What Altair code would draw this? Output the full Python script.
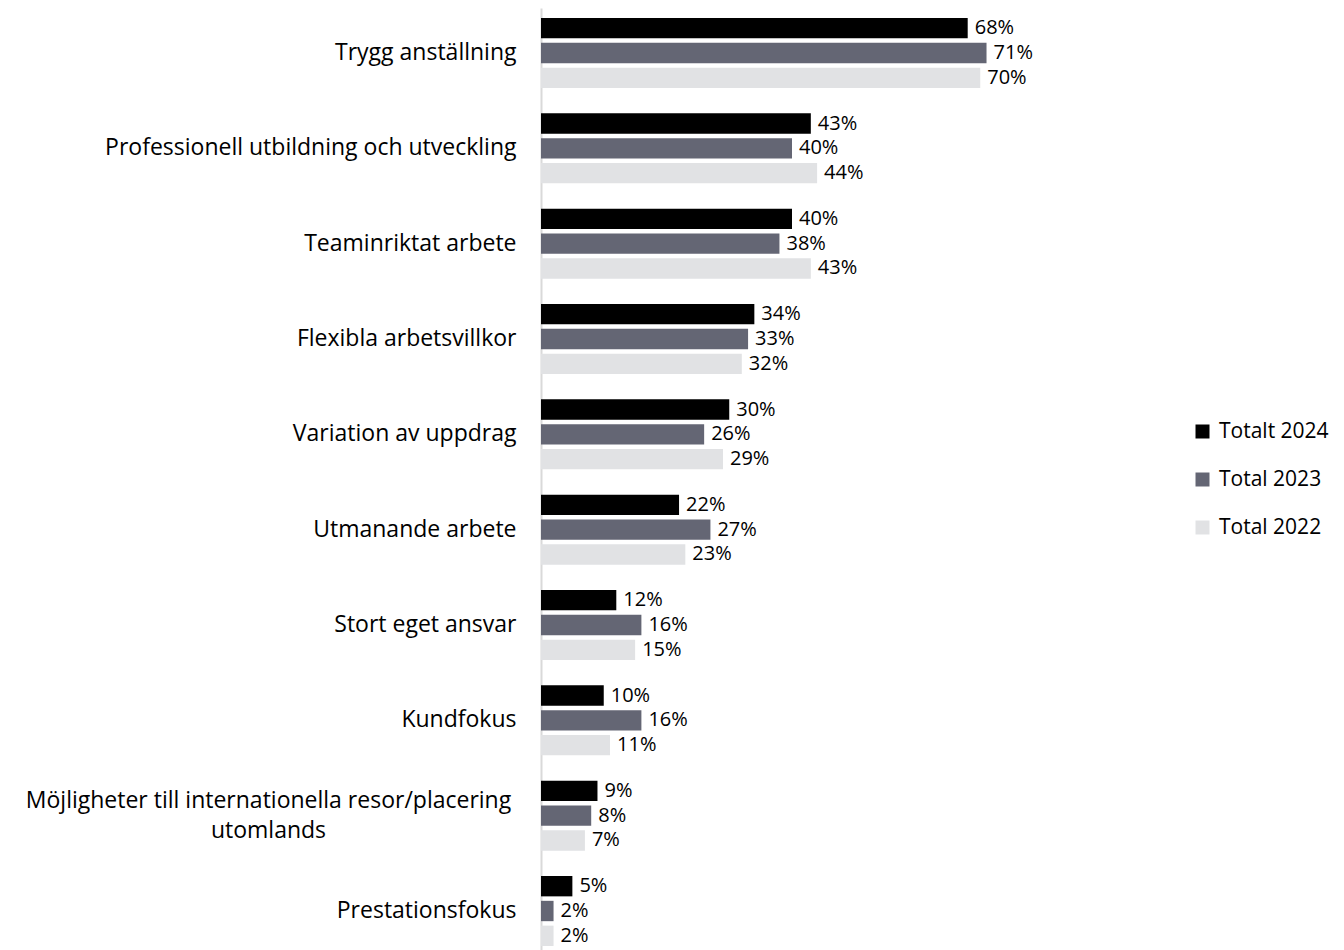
import altair as alt
import pandas as pd

categories = [
    "Trygg anställning",
    "Professionell utbildning och utveckling",
    "Teaminriktat arbete",
    "Flexibla arbetsvillkor",
    "Variation av uppdrag",
    "Utmanande arbete",
    "Stort eget ansvar",
    "Kundfokus",
    "Möjligheter till internationella resor/placering|utomlands",
    "Prestationsfokus",
]
series = ["Totalt 2024", "Total 2023", "Total 2022"]
v2024 = [68, 43, 40, 34, 30, 22, 12, 10, 9, 5]
v2023 = [71, 40, 38, 33, 26, 27, 16, 16, 8, 2]
v2022 = [70, 44, 43, 32, 29, 23, 15, 11, 7, 2]
colors = ["#000000", "#646674", "#E1E2E4"]

rows = []
for s, vals in zip(series, [v2024, v2023, v2022]):
    for c, v in zip(categories, vals):
        rows.append({"kategori": c, "serie": s, "varde": v})
df = pd.DataFrame(rows)

FONT = "Open Sans"
FS = 23
FS_LEG = 21
FS_VAL = 20
MULTI = "indexof(datum.value, '|') >= 0"

y_enc = alt.Y(
    "kategori:N",
    sort=categories,
    scale=alt.Scale(paddingInner=0.266, paddingOuter=0.105),
    axis=alt.Axis(
        title=None,
        ticks=False,
        grid=False,
        domainColor="#D9D9D9",
        domainWidth=2,
        labelFont=FONT,
        labelFontSize=FS,
        labelColor="#000000",
        labelLimit=0,
        labelExpr="split(datum.value, '|')",
        labelLineHeight=30,
        labelAlign={"condition": {"test": MULTI, "value": "center"}, "value": "right"},
        labelPadding={"condition": {"test": MULTI, "value": 273}, "value": 25},
        labelOffset={"condition": {"test": MULTI, "value": -15}, "value": 0},
    ),
)
yoff = alt.YOffset("serie:N", sort=series, scale=alt.Scale(paddingInner=0.18, paddingOuter=0))
x_enc = alt.X("varde:Q", scale=alt.Scale(domain=[0, 80]), axis=None)

bars = alt.Chart(df).mark_bar().encode(
    y=y_enc,
    yOffset=yoff,
    x=x_enc,
    color=alt.Color(
        "serie:N",
        sort=series,
        scale=alt.Scale(domain=series, range=colors),
        legend=alt.Legend(
            title=None,
            orient="none",
            legendX=651,
            legendY=413,
            symbolType="square",
            symbolSize=196,
            symbolStrokeWidth=0,
            labelFont=FONT,
            labelFontSize=FS_LEG,
            labelColor="#000000",
            rowPadding=26,
            labelOffset=6,
        ),
    ),
)

labels = alt.Chart(df).transform_calculate(
    txt="datum.varde + '%'"
).mark_text(align="left", baseline="middle", dx=7, font=FONT, fontSize=FS_VAL, color="#000000").encode(
    y=alt.Y("kategori:N", sort=categories),
    yOffset=alt.YOffset("serie:N", sort=series),
    x=x_enc,
    text="txt:N",
)

chart = (
    alt.layer(bars, labels)
    .properties(
        width=502,
        height=948,
        padding={"left": 533, "top": 0, "right": 292, "bottom": 0},
        autosize=alt.AutoSizeParams(type="none"),
    )
    .configure_view(stroke=None)
)

chart.save("out.html", embed_options={"renderer": "svg", "actions": False})
